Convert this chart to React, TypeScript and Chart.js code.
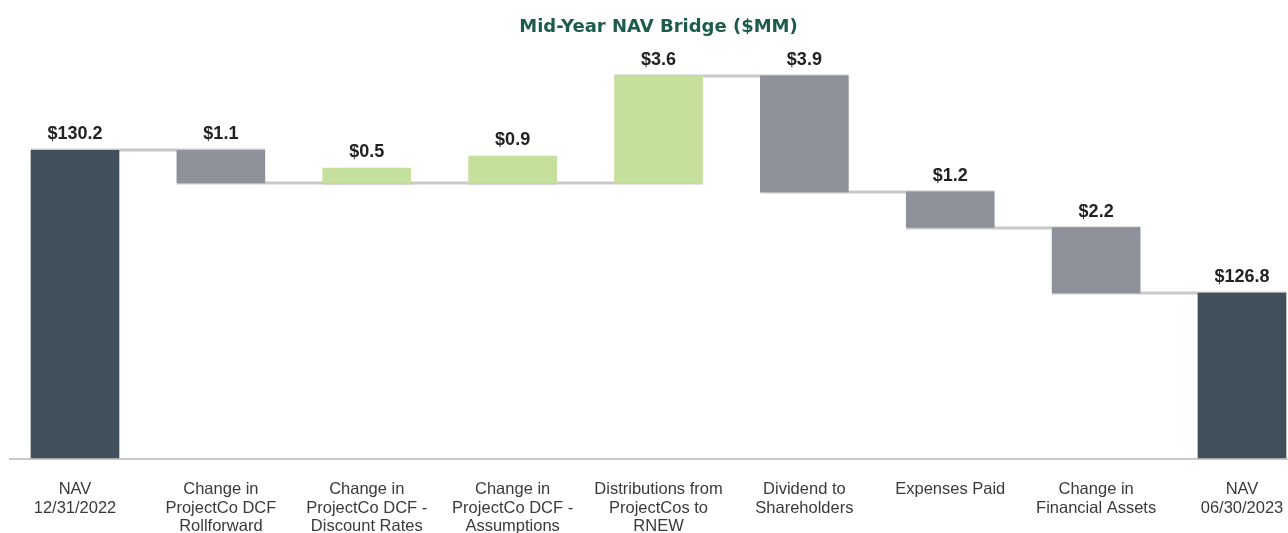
import React, { useEffect, useRef } from "react";
import { Chart, registerables } from "chart.js";

Chart.register(...registerables);

const categories: string[][] = [
  ["NAV", "12/31/2022"],
  ["Change in", "ProjectCo DCF", "Rollforward"],
  ["Change in", "ProjectCo DCF -", "Discount Rates"],
  ["Change in", "ProjectCo DCF -", "Assumptions"],
  ["Distributions from", "ProjectCos to", "RNEW"],
  ["Dividend to", "Shareholders"],
  ["Expenses Paid"],
  ["Change in", "Financial Assets"],
  ["NAV", "06/30/2023"],
];

const amounts = [130.2, 1.1, 0.5, 0.9, 3.6, 3.9, 1.2, 2.2, 126.8];
const kinds = ["total", "decrease", "increase", "increase", "increase", "decrease", "decrease", "decrease", "total"];

// Bar extents as drawn in the reference (value units)
const axisMin = 119.85;
const axisMax = 133.2;
const barLow = [119.85, 129.1, 129.1, 129.1, 129.1, 128.8, 127.6, 125.4, 119.85];
const barHigh = [130.2, 130.2, 129.6, 130.0, 132.7, 132.7, 128.8, 127.6, 125.4];
const connectorLevels = [130.2, 129.1, 129.1, 129.1, 132.7, 128.8, 127.6, 125.4];

const TITLE = "Mid-Year NAV Bridge ($MM)";

const kindColors: Record<string, string> = {
  total: "#404f5a",
  decrease: "#8e9199",
  increase: "#c5df9c",
};

const FONT = "'Liberation Sans', Arial, Helvetica, sans-serif";

export default function App() {
  const ref = useRef<HTMLCanvasElement | null>(null);

  useEffect(() => {
    document.body.style.margin = "0";
    document.body.style.overflow = "hidden";
    if (!ref.current) return;

    const decorations = {
      id: "decorations",
      beforeDatasetsDraw(chart: any) {
        const ctx = chart.ctx;
        const ys = chart.scales.y;
        const meta = chart.getDatasetMeta(0);
        ctx.save();
        ctx.strokeStyle = "#c9c9c9";
        ctx.lineWidth = 3;
        connectorLevels.forEach((lvl, i) => {
          const a = meta.data[i];
          const b = meta.data[i + 1];
          const y = Math.round(ys.getPixelForValue(lvl));
          ctx.beginPath();
          ctx.moveTo(a.x - a.width / 2, y);
          ctx.lineTo(b.x + b.width / 2, y);
          ctx.stroke();
        });
        // baseline
        ctx.lineWidth = 2;
        const yb = chart.chartArea.bottom + 1;
        ctx.beginPath();
        ctx.moveTo(9, yb);
        ctx.lineTo(chart.width, yb);
        ctx.stroke();
        ctx.restore();
      },
      afterDatasetsDraw(chart: any) {
        const ctx = chart.ctx;
        const meta = chart.getDatasetMeta(0);
        const area = chart.chartArea;
        ctx.save();
        ctx.fillStyle = "#222222";
        ctx.font = `bold 18px ${FONT}`;
        ctx.textAlign = "center";
        ctx.textBaseline = "middle";
        meta.data.forEach((el: any, i: number) => {
          const top = Math.min(el.y, el.base);
          ctx.fillText("$" + amounts[i].toFixed(1), el.x, top - 16);
        });
        ctx.fillStyle = "#1d5b4a";
        ctx.font = `bold 18px 'DejaVu Sans', ${FONT}`;
        ctx.fillText(TITLE, (area.left + area.right) / 2, 27);
        ctx.restore();
      },
    };

    const chart = new Chart(ref.current, {
      type: "bar",
      data: {
        labels: categories,
        datasets: [
          {
            data: barLow.map((lo, i) => [lo, barHigh[i]]) as any,
            backgroundColor: kinds.map((k) => kindColors[k]),
            borderWidth: 0,
            barThickness: 88,
            clip: false as any,
          },
        ],
      },
      options: {
        responsive: false,
        animation: false,
        layout: { autoPadding: false, padding: { left: 75, right: 46, top: 61, bottom: 0 } },
        plugins: {
          legend: { display: false },
          tooltip: { enabled: false },
          title: { display: false },
        },
        scales: {
          x: {
            offset: false,
            grid: { display: false, drawTicks: false },
            border: { display: false },
            ticks: {
              autoSkip: false,
              maxRotation: 0,
              minRotation: 0,
              padding: 22,
              color: "#3a3a3a",
              font: { family: FONT, size: 16.5, lineHeight: 1.13 },
            },
            afterFit(scale: any) {
              scale.height = 75;
              scale.paddingLeft = 0;
              scale.paddingRight = 0;
            },
          },
          y: {
            display: false,
            min: axisMin,
            max: axisMax,
          },
        },
      },
      plugins: [decorations],
    });

    return () => chart.destroy();
  }, []);

  return (
    <div style={{ width: 1288, height: 533 }}>
      <canvas ref={ref} width={1288} height={533} />
    </div>
  );
}
